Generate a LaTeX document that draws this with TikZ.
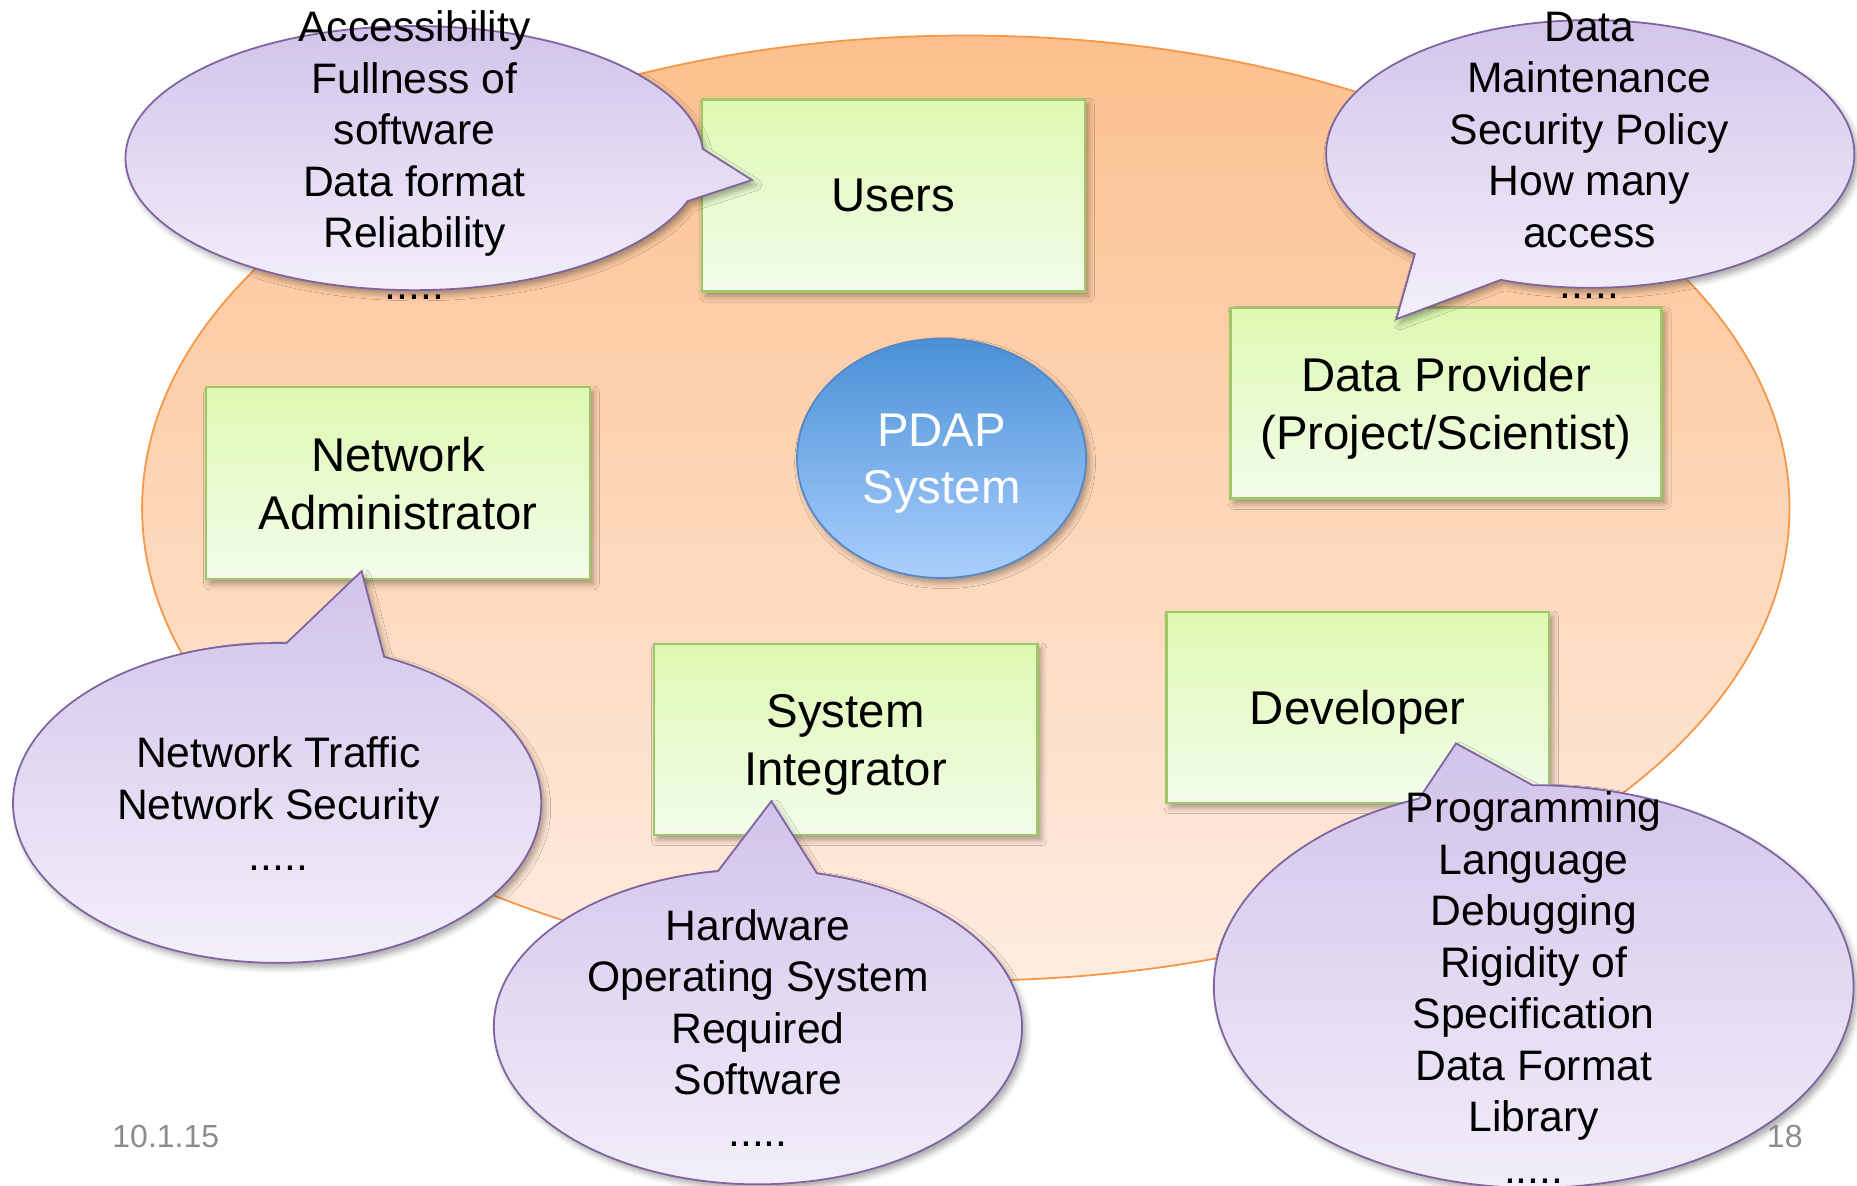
\documentclass[tikz,border=0pt]{standalone}
\usepackage{fontspec}
\setmainfont{Liberation Sans}
\usetikzlibrary{shapes.geometric,shadows.blur}

\definecolor{orangeline}{RGB}{247,150,70}
\definecolor{orangetop}{RGB}{252,192,142}
\definecolor{orangebot}{RGB}{254,236,224}
\definecolor{greenline}{RGB}{158,200,104}
\definecolor{greentop}{RGB}{221,249,178}
\definecolor{greenbot}{RGB}{243,252,234}
\definecolor{blueline}{RGB}{84,136,200}
\definecolor{bluetop}{RGB}{74,144,214}
\definecolor{bluebot}{RGB}{170,207,253}
\definecolor{purpleline}{RGB}{128,100,162}
\definecolor{purpletop}{RGB}{209,195,234}
\definecolor{purplebot}{RGB}{243,239,250}
\definecolor{footgray}{RGB}{140,140,140}

\begin{document}
\begin{tikzpicture}[x=1pt,y=-1pt,
  softshadow/.style={blur shadow={shadow xshift=3pt,shadow yshift=-4pt,
      shadow blur radius=5pt,shadow opacity=35}},
  stage/.style={ellipse,draw=orangeline,line width=1.5pt,
      top color=orangetop,bottom color=orangebot,inner sep=0pt},
  rolebox/.style={rectangle,draw=greenline,line width=2pt,
      top color=greentop,bottom color=greenbot,softshadow,
      align=center,text depth=0pt,inner sep=0pt,
      font=\fontsize{40}{49}\selectfont},
  core/.style={ellipse,draw=blueline,line width=1.5pt,
      top color=bluetop,bottom color=bluebot,softshadow,
      align=center,text=white,text depth=0pt,inner sep=0pt,
      font=\fontsize{40}{48}\selectfont},
  bubble/.style={draw=purpleline,line width=1.5pt,line join=miter,
      top color=purpletop,bottom color=purplebot,softshadow},
  bubbletext/.style={align=center,inner sep=0pt,
      font=\fontsize{36}{43.5}\selectfont},
  foot/.style={text=footgray,inner sep=0pt,font=\fontsize{27}{32}\selectfont}]

\useasboundingbox (0,0) rectangle (1568,1001);

% stakeholder field
\node[stage,minimum width=1391pt,minimum height=798pt] (field) at (815.5,429) {};

% stakeholder roles
\node[rolebox,minimum width=323pt,minimum height=162pt] (users) at (754.5,165) {Users};
\node[rolebox,minimum width=324pt,minimum height=162pt] (netadmin) at (336,408) {Network\\Administrator};
\node[rolebox,minimum width=364pt,minimum height=161pt] (provider) at (1221,340.5) {Data Provider\\(Project/Scientist)};
\node[rolebox,minimum width=324pt,minimum height=161pt] (integrator) at (714,624.5) {System\\Integrator};
\node[rolebox,minimum width=323pt,minimum height=161pt] (developer) at (1146.5,597.5) {Developer};

% system at the centre
\node[core,minimum width=244pt,minimum height=202pt] (pdap) at (795,387) {PDAP\\System};

% callout pointers
\coordinate (tipA) at (635,152);
\coordinate (tipB) at (1179,269.5);
\coordinate (tipC) at (305.3,482.3);
\coordinate (tipD) at (651.3,676.5);
\coordinate (tipE) at (1229.4,627.7);

% callouts: ellipse arc plus pointer
\path[bubble] (tipA) -- ([shift={(350,133.5)}]4:244pt and 111.5pt)
  arc[start angle=4,end angle=341,x radius=244pt,y radius=111.5pt] -- cycle;
\path[bubble] (tipB) -- ([shift={(1342.7,130)}]250.2:223pt and 113pt)
  arc[start angle=250.2,end angle=588.4,x radius=223pt,y radius=113pt] -- cycle;
\path[bubble] (tipC) -- ([shift={(234,678)}]88:223pt and 135pt)
  arc[start angle=88,end angle=426.1,x radius=223pt,y radius=135pt] -- cycle;
\path[bubble] (tipD) -- ([shift={(640,867)}]98.7:223pt and 133pt)
  arc[start angle=98.7,end angle=437.1,x radius=223pt,y radius=133pt] -- cycle;
\path[bubble] (tipE) -- ([shift={(1295,833)}]111:270pt and 170pt)
  arc[start angle=111,end angle=450.2,x radius=270pt,y radius=170pt] -- cycle;

% callout texts
\node[bubbletext] (needsA) at (350,131)
  {Accessibility\\Fullness of\\software\\Data format\\Reliability\\.....};
\node[bubbletext] (needsB) at (1342,131)
  {Data\\Maintenance\\Security Policy\\How many\\access\\.....};
\node[bubbletext] (needsC) at (235,678.5)
  {Network Traffic\\Network Security\\.....};
\node[bubbletext] (needsD) at (640,868)
  {Hardware\\Operating System\\Required\\Software\\.....};
\node[bubbletext] (needsE) at (1295,834)
  {Programming\\Language\\Debugging\\Rigidity of\\Specification\\Data Format\\Library\\.....};

% footer
\node[foot] (date) at (140,960) {10.1.15};
\node[foot] (page) at (1507,960) {18};

\end{tikzpicture}
\end{document}
